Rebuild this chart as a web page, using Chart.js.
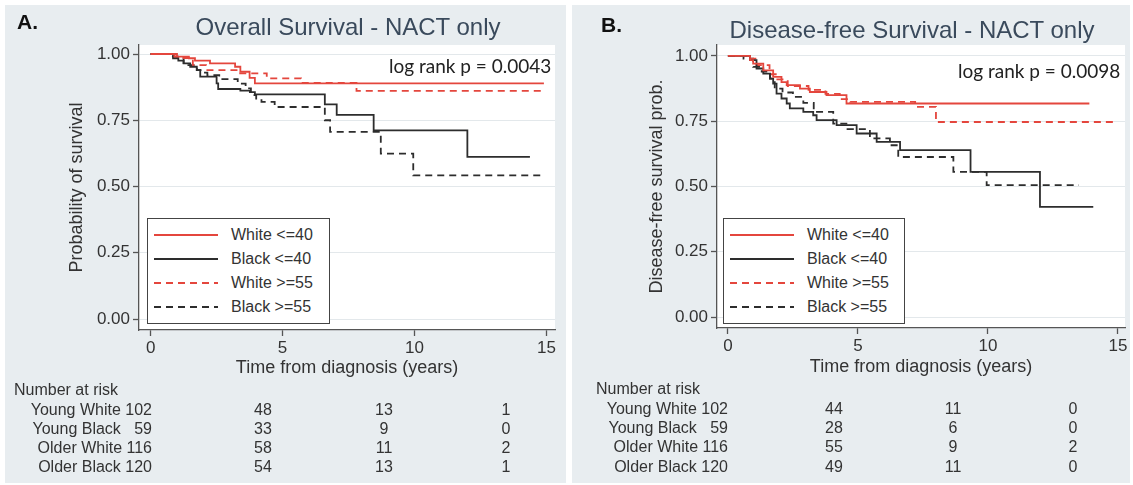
<!DOCTYPE html>
<html>
<head>
<meta charset="utf-8">
<script src="https://cdn.jsdelivr.net/npm/chart.js"></script>
<style>
  body { margin: 0; width: 1133px; height: 485px; position: relative; overflow: hidden; background: #fff;
         font-family: 'Liberation Sans', Arial, sans-serif; color: #333; }
  .panel { position: absolute; top: 5px; height: 478px; background: #e8edf0; }
  .panel canvas { position: absolute; left: 0; top: 0; }
  .tag { position: absolute; font-weight: bold; font-size: 21px; color: #111; transform: translateY(-50%); }
  .title { position: absolute; font-size: 24px; color: #3a4a5c; white-space: nowrap; transform: translate(-50%, -50%); }
  .logrank { position: absolute; font-family: Lato, sans-serif; font-size: 19px; color: #222; white-space: nowrap; transform: translateY(-50%); }
  .legend { position: absolute; background: #fff; border: 1px solid #444; box-sizing: border-box; padding-top: 4px; }
  .legend .row { height: 24px; display: flex; align-items: center; font-size: 16px; color: #333; }
  .legend svg { margin-left: 6px; margin-right: 13px; }
  .cell { position: absolute; font-size: 16px; white-space: nowrap; color: #333; }
</style>
</head>
<body>
<script>
const groups = ['White <=40', 'Black <=40', 'White >=55', 'Black >=55'];
const riskGroups = ['Young White', 'Young Black', 'Older White', 'Older Black'];
const xTicks = [0, 5, 10, 15];
const yTicks = [0, 0.25, 0.5, 0.75, 1];

// A. overall survival, time (years) / survival probability
const osWhiteYoungT = [0, 0.9, 1.45, 1.68, 2.25, 3.2, 3.4, 3.75, 3.95, 14.9];
const osWhiteYoungS = [1, 0.99, 0.984, 0.975, 0.965, 0.952, 0.933, 0.91, 0.889, 0.889];
const osBlackYoungT = [0, 0.85, 1.05, 1.25, 1.5, 1.75, 1.88, 2.5, 2.56, 3.4, 3.76, 3.95, 6.6, 7.05, 8.45, 12.0, 14.37];
const osBlackYoungS = [1, 0.984, 0.975, 0.965, 0.952, 0.939, 0.915, 0.889, 0.868, 0.862, 0.856, 0.848, 0.81, 0.77, 0.712, 0.612, 0.612];
const osWhiteOldT = [0, 1.0, 1.6, 2.1, 3.35, 4.4, 5.7, 7.8, 14.94];
const osWhiteOldS = [1, 0.985, 0.958, 0.939, 0.927, 0.908, 0.891, 0.861, 0.861];
const osBlackOldT = [0, 0.8, 1.25, 1.75, 2.0, 2.15, 2.6, 3.3, 3.6, 3.8, 4.0, 4.2, 4.7, 6.6, 6.8, 8.72, 9.95, 14.94];
const osBlackOldS = [1, 0.99, 0.958, 0.939, 0.93, 0.92, 0.905, 0.888, 0.87, 0.845, 0.832, 0.819, 0.8, 0.75, 0.706, 0.624, 0.542, 0.542];

// B. disease-free survival
const dfsWhiteYoungT = [0, 0.85, 0.97, 1.36, 1.74, 2.06, 2.26, 2.77, 3.15, 3.79, 4.56, 13.9];
const dfsWhiteYoungS = [1, 0.984, 0.971, 0.945, 0.92, 0.9, 0.888, 0.875, 0.862, 0.85, 0.818, 0.818];
const dfsBlackYoungT = [0, 0.85, 1.1, 1.36, 1.62, 1.74, 1.87, 2.06, 2.26, 2.38, 2.9, 3.28, 3.41, 4.18, 4.95, 5.72, 6.62, 9.33, 12.0, 14.05];
const dfsBlackYoungS = [1, 0.984, 0.952, 0.932, 0.913, 0.894, 0.856, 0.837, 0.818, 0.799, 0.786, 0.773, 0.754, 0.735, 0.703, 0.671, 0.639, 0.556, 0.422, 0.422];
const dfsWhiteOldT = [0, 0.7, 1.1, 1.6, 1.9, 2.3, 3.1, 3.75, 4.3, 4.7, 7.2, 8.0, 14.9];
const dfsWhiteOldS = [1, 0.99, 0.965, 0.93, 0.91, 0.885, 0.87, 0.855, 0.835, 0.824, 0.805, 0.747, 0.747];
const dfsBlackOldT = [0, 0.6, 0.97, 1.3, 1.62, 1.8, 2.1, 2.5, 2.9, 3.3, 4.05, 4.6, 5.46, 6.23, 6.55, 8.67, 9.95, 13.5];
const dfsBlackOldS = [1, 0.99, 0.958, 0.94, 0.913, 0.875, 0.86, 0.843, 0.82, 0.786, 0.741, 0.72, 0.684, 0.658, 0.613, 0.556, 0.505, 0.505];

// number at risk at 0, 5, 10, 15 years
const riskA = [[102, 48, 13, 1], [59, 33, 9, 0], [116, 58, 11, 2], [120, 54, 13, 1]];
const riskB = [[102, 44, 11, 0], [59, 28, 6, 0], [116, 55, 9, 2], [120, 49, 11, 0]];

const RED = '#e4463d';
const BLACK = '#2d2d2d';
const FONT = "'Liberation Sans', Arial, sans-serif";

function curve(label, t, s, color, dash) {
  return {
    label: label,
    data: t.map((x, i) => ({ x: x, y: s[i] })),
    borderColor: color,
    borderDash: dash,
    borderWidth: 1.8,
    stepped: true,
    pointRadius: 0,
    fill: false
  };
}

// white plot region behind the curves
const plotBg = {
  id: 'plotBg',
  beforeDraw(chart) {
    const a = chart.chartArea;
    chart.ctx.save();
    chart.ctx.fillStyle = '#fff';
    chart.ctx.fillRect(a.left, a.top, a.right - a.left, a.bottom - a.top);
    chart.ctx.restore();
  }
};

function addText(cls, text, left, top) {
  const el = document.createElement('div');
  el.className = cls;
  el.textContent = text;
  el.style.left = left + 'px';
  el.style.top = top + 'px';
  document.body.appendChild(el);
  return el;
}

function makePanel(p) {
  const div = document.createElement('div');
  div.className = 'panel';
  div.style.left = p.left + 'px';
  div.style.width = p.width + 'px';
  document.body.appendChild(div);
  const canvas = document.createElement('canvas');
  canvas.width = p.width;
  canvas.height = 478;
  div.appendChild(canvas);

  const chart = new Chart(canvas, {
    type: 'line',
    data: { datasets: p.datasets },
    plugins: [plotBg],
    options: {
      responsive: false,
      animation: false,
      devicePixelRatio: 1,
      layout: { padding: { left: 0, top: 40, right: p.padRight, bottom: p.padBottom } },
      plugins: { legend: { display: false }, tooltip: { enabled: false } },
      scales: {
        x: {
          type: 'linear', min: p.xMin, max: p.xMax,
          afterBuildTicks: s => { s.ticks = xTicks.map(v => ({ value: v })); },
          afterFit: s => { s.height = 50; },
          grid: { drawOnChartArea: false, tickLength: 6, tickColor: '#555', tickWidth: 1.3 },
          border: { color: '#555', width: 1.3 },
          ticks: { color: '#333', font: { size: 17, family: FONT }, padding: 2, maxRotation: 0 },
          title: { display: true, text: 'Time from diagnosis (years)', color: '#333',
                   font: { size: 18, family: FONT }, padding: { top: 0, bottom: p.xTitlePad } }
        },
        y: {
          min: p.yMin, max: p.yMax,
          afterBuildTicks: s => { s.ticks = yTicks.map(v => ({ value: v })); },
          afterFit: s => { s.width = p.yWidth; },
          grid: { color: '#e3e8eb', tickLength: 6, tickColor: '#555', tickWidth: 1.3 },
          border: { color: '#555', width: 1.3 },
          ticks: { color: '#333', font: { size: 17, family: FONT }, padding: 3, callback: v => v.toFixed(2) },
          title: { display: true, text: p.yTitle, color: '#333',
                   font: { size: 18, family: FONT }, padding: { top: p.yTitlePad, bottom: 0 } }
        }
      }
    }
  });

  // legend box inside the plot, built from the datasets
  const leg = document.createElement('div');
  leg.className = 'legend';
  leg.style.left = p.legend[0] + 'px';
  leg.style.top = p.legend[1] + 'px';
  leg.style.width = p.legend[2] + 'px';
  leg.style.height = '106px';
  chart.data.datasets.forEach(ds => {
    const row = document.createElement('div');
    row.className = 'row';
    const dash = ds.borderDash ? ds.borderDash.join(',') : 'none';
    row.innerHTML = '<svg width="64" height="4"><line x1="0" y1="2" x2="64" y2="2" stroke="' + ds.borderColor +
      '" stroke-width="1.8" stroke-dasharray="' + dash + '"/></svg><span>' + ds.label + '</span>';
    leg.appendChild(row);
  });
  document.body.appendChild(leg);

  addText('tag', p.tag, p.tagPos[0], p.tagPos[1]);
  addText('title', p.title, p.titlePos[0], p.titlePos[1]);
  addText('logrank', p.logrank, p.logPos[0], p.logPos[1]);

  // number at risk table
  const r = p.risk;
  addText('cell', 'Number at risk', r.headX, r.headY).style.transform = 'translateY(-50%)';
  p.riskRows.forEach((row, i) => {
    const y = r.rowY[i];
    const lab = addText('cell', riskGroups[i] + ' ' + String(row[0]).padStart(3, '\u2007'), r.labelRight, y);
    lab.style.transform = 'translate(-100%, -50%)';
    for (let j = 1; j < row.length; j++) {
      addText('cell', String(row[j]), r.colX[j - 1], y).style.transform = 'translate(-50%, -50%)';
    }
  });
  return chart;
}

makePanel({
  left: 5, width: 561, yWidth: 134, padRight: 11, padBottom: 103,
  xMin: -0.44, xMax: 15.32, yMin: -0.0415, yMax: 1.034,
  yTitle: 'Probability of survival', yTitlePad: 61, xTitlePad: 1,
  datasets: [
    curve(groups[0], osWhiteYoungT, osWhiteYoungS, RED, []),
    curve(groups[1], osBlackYoungT, osBlackYoungS, BLACK, []),
    curve(groups[2], osWhiteOldT, osWhiteOldS, RED, [7, 5]),
    curve(groups[3], osBlackOldT, osBlackOldS, BLACK, [7, 5])
  ],
  legend: [147, 218, 183],
  tag: 'A.', tagPos: [17, 22],
  title: 'Overall Survival - NACT only', titlePos: [348, 27],
  logrank: 'log rank p = 0.0043', logPos: [389, 65],
  riskRows: riskA,
  risk: { headX: 14, headY: 390, labelRight: 152, rowY: [410, 429, 448, 467], colX: [263, 384, 506] }
});

makePanel({
  left: 572, width: 558, yWidth: 145, padRight: 5, padBottom: 105,
  xMin: -0.42, xMax: 15.27, yMin: -0.042, yMax: 1.042,
  yTitle: 'Disease-free survival prob.', yTitlePad: 74, xTitlePad: 0,
  datasets: [
    curve(groups[0], dfsWhiteYoungT, dfsWhiteYoungS, RED, []),
    curve(groups[1], dfsBlackYoungT, dfsBlackYoungS, BLACK, []),
    curve(groups[2], dfsWhiteOldT, dfsWhiteOldS, RED, [7, 5]),
    curve(groups[3], dfsBlackOldT, dfsBlackOldS, BLACK, [7, 5])
  ],
  legend: [723, 218, 182],
  tag: 'B.', tagPos: [601, 25],
  title: 'Disease-free Survival - NACT only', titlePos: [912, 30],
  logrank: 'log rank p = 0.0098', logPos: [958, 70],
  riskRows: riskB,
  risk: { headX: 596, headY: 389, labelRight: 728, rowY: [409, 428, 447, 467], colX: [834, 953, 1073] }
});
</script>
</body>
</html>
